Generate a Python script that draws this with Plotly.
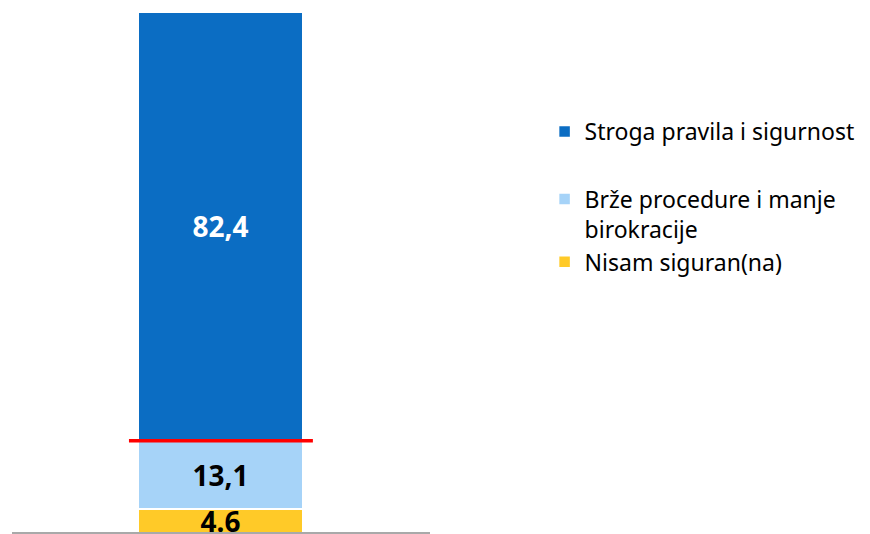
import plotly.graph_objects as go

# one stacked column, bottom segment first
series = ["Nisam siguran(na)", "Brže procedure i manje<br>birokracije", "Stroga pravila i sigurnost"]
values = [4.6, 13.1, 82.4]
labels = ["4.6", "13,1", "82,4"]
colors = ["#FFCA28", "#A6D3F8", "#0B6DC3"]
text_colors = ["black", "black", "white"]
legends = ["legend2", "legend2", "legend"]

font_family = "Noto Sans, sans-serif"

fig = go.Figure()
for name, val, lab, col, tcol, leg in zip(series, values, labels, colors, text_colors, legends):
    fig.add_trace(go.Bar(
        x=[0], y=[val], name=name, width=1,
        marker=dict(color=col, line=dict(color="white", width=1.5)),
        text=[lab], textposition="inside", insidetextanchor="middle",
        textfont=dict(color=tcol, size=28, family=font_family, weight="bold"),
        legend=leg,
    ))

# red divider on top of the "Brže procedure" segment
split = values[0] + values[1]
fig.add_shape(type="line", x0=-0.555, x1=0.56, y0=split, y1=split,
              line=dict(color="#FF0000", width=3.5))
# baseline drawn over the bar
fig.add_shape(type="line", xref="x domain", x0=0, x1=1, y0=0, y1=0,
              line=dict(color="#8C8C8C", width=1.5), layer="above")

fig.update_layout(
    width=870, height=534,
    barmode="stack",
    plot_bgcolor="white", paper_bgcolor="white",
    margin=dict(l=4, r=0, t=0, b=0),
    font=dict(family=font_family, size=23, color="black"),
    uniformtext=dict(minsize=28, mode="show"),
    showlegend=True,
    legend=dict(x=0.615, y=0.809, xanchor="left", yanchor="top",
                valign="top", itemwidth=30, traceorder="normal"),
    legend2=dict(x=0.615, y=0.6825, xanchor="left", yanchor="top",
                 valign="top", itemwidth=30, traceorder="reversed",
                 tracegroupgap=0),
)
fig.update_xaxes(domain=[0, 0.4827], range=[-1.264, 1.27], visible=False)
fig.update_yaxes(range=[-1.73, 100.87], showgrid=False, showticklabels=False,
                 zeroline=False, showline=False)

fig.write_html("out.html")
